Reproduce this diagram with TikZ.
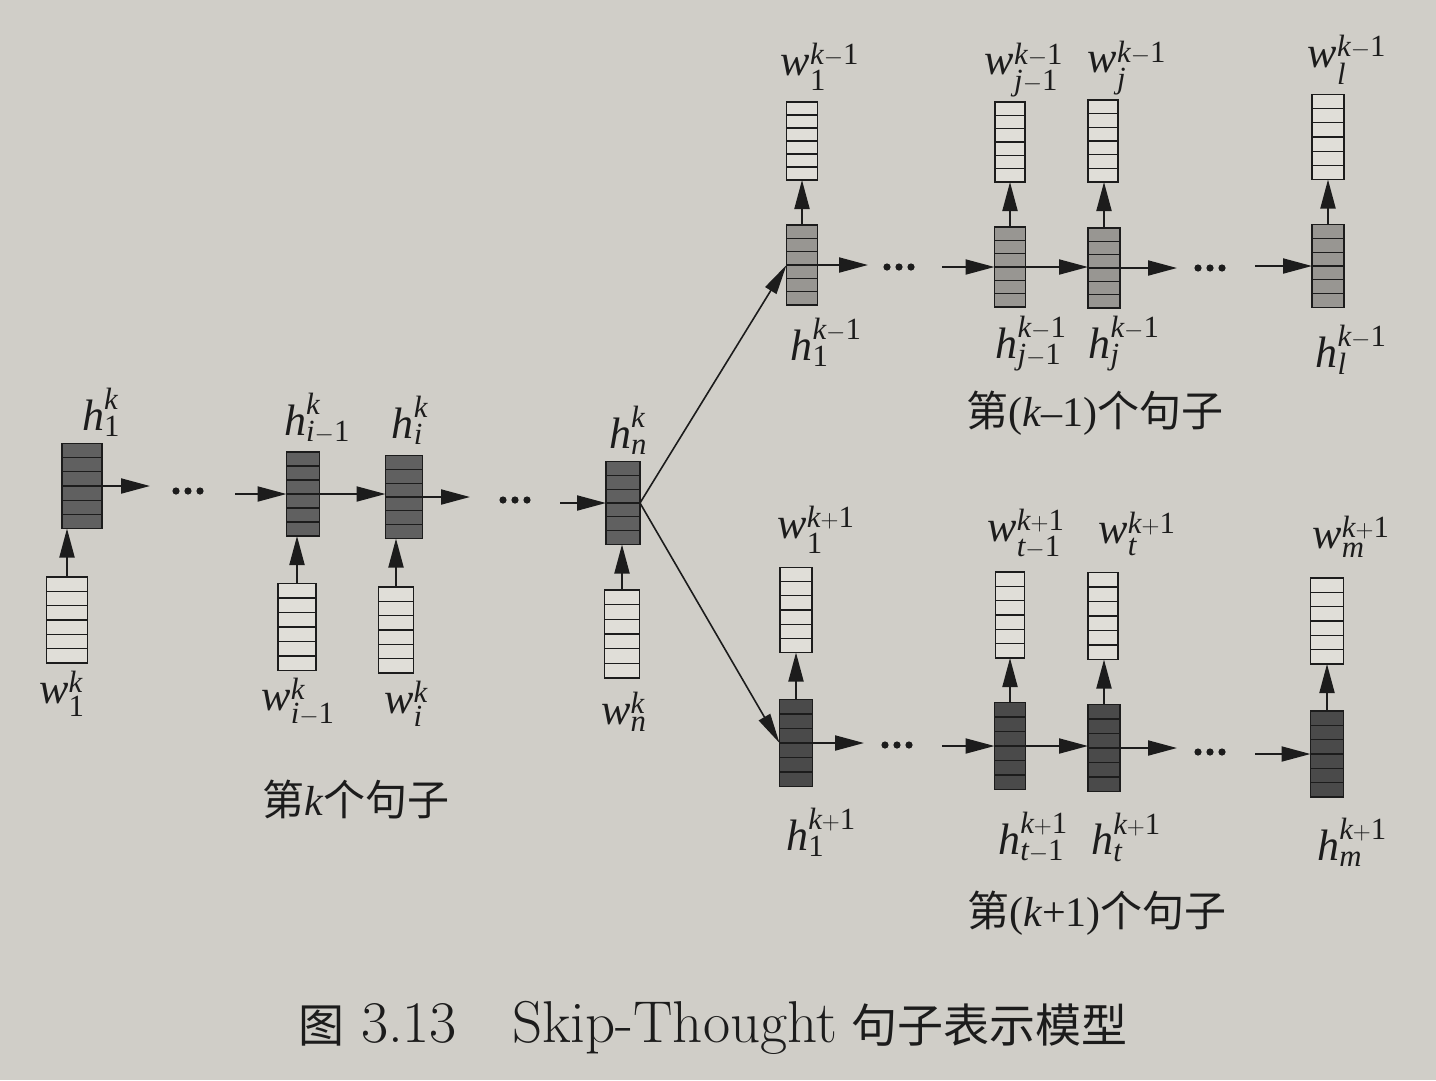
\documentclass[tikz,border=0pt]{standalone}
\usepackage{fontspec}
\usepackage{amsmath}
\newfontfamily\tms{Liberation Serif}
\newfontfamily\cjk{Noto Sans CJK SC}
\usetikzlibrary{arrows.meta,calc}
\definecolor{paper}{RGB}{208,206,200}
\definecolor{wfill}{RGB}{224,222,216}
\definecolor{hdark}{RGB}{96,96,96}
\definecolor{hmid}{RGB}{152,150,146}
\definecolor{hblack}{RGB}{74,74,74}
\definecolor{ink}{RGB}{28,28,28}
\newcommand\I[1]{\text{\tms\itshape #1}}
\newcommand\R[1]{\text{\tms\upshape #1}}
\newcommand\lbl[3]{$\I{#1}^{#2}_{#3}$}
\tikzset{
  cellbox/.style={draw=ink, line width=1.5pt, minimum width=32pt, minimum height=84pt,
    inner sep=0pt, outer sep=0pt,
    path picture={\foreach \i in {1,...,5}{\draw[ink, line width=1.2pt]
      ($(path picture bounding box.south west)!\i/6!(path picture bounding box.north west)$) --
      ($(path picture bounding box.south east)!\i/6!(path picture bounding box.north east)$);}}},
  wbox/.style={cellbox, fill=wfill},
  hbox/.style={cellbox, fill=hdark},
  hboxu/.style={cellbox, fill=hmid},
  hboxd/.style={cellbox, fill=hblack},
  flow/.style={draw=ink, line width=2pt, -{Triangle[length=29pt,width=15pt]}},
  diag/.style={draw=ink, line width=1.6pt, -{Triangle[length=30pt,width=13pt]}},
  lab/.style={font=\fontsize{44}{48}\selectfont, inner sep=0pt, text=ink},
  cn/.style={font=\fontsize{42}{46}\selectfont, inner sep=0pt, text=ink},
  threedots/.pic={\foreach \i in {-1,0,1} \fill[ink] (\i*12,0) circle (3.6pt);}
}
\begin{document}
\begin{tikzpicture}[x=1pt, y=-1pt]
\fill[paper] (0,0) rectangle (1436,1080);
\useasboundingbox (0,0) rectangle (1436,1080);

% ---------- sentence k ----------
\node[hbox, minimum width=40pt, minimum height=85pt] (h1) at (82,486) {};
\node[hbox, minimum width=33pt] (him1) at (303,494) {};
\node[hbox, minimum width=37pt, minimum height=83pt] (hi) at (404,497) {};
\node[hbox, minimum width=34pt, minimum height=83pt] (hn) at (623,503) {};
\node[wbox, minimum width=41pt, minimum height=86pt] (w1) at (67,620) {};
\node[wbox, minimum width=38pt, minimum height=87pt] (wim1) at (297,627) {};
\node[wbox, minimum width=35pt, minimum height=86pt] (wi) at (396,630) {};
\node[wbox, minimum width=35pt, minimum height=88pt] (wn) at (622,634) {};

\coordinate (a1) at (150,486);
\coordinate (b1) at (235,494);
\coordinate (a2) at (470,497);
\coordinate (b2) at (560,503);
\pic at (188,491) {threedots};
\pic at (515,500) {threedots};
\draw[flow] (h1.east) -- (a1);
\draw[flow] (b1) -- (him1.west);
\draw[flow] (him1.east) -- (him1.east -| hi.west);
\draw[flow] (hi.east) -- (a2);
\draw[flow] (b2) -- (hn.west);
\draw[flow] (w1.north) -- (w1.north |- h1.south);
\draw[flow] (wim1.north) -- (wim1.north |- him1.south);
\draw[flow] (wi.north) -- (wi.north |- hi.south);
\draw[flow] (wn.north) -- (wn.north |- hn.south);

\node[lab] (lh1) at (101,412) {\lbl{h}{\I{k}}{\R{1}}};
\node[lab] (lhim1) at (317,418) {\lbl{h}{\I{k}}{\I{i}-\R{1}}};
\node[lab] (lhi) at (410,420) {\lbl{h}{\I{k}}{\I{i}}};
\node[lab] (lhn) at (628,430) {\lbl{h}{\I{k}}{\I{n}}};
\node[lab] (lw1) at (62,694) {\lbl{w}{\I{k}}{\R{1}}};
\node[lab] (lwim1) at (298,702) {\lbl{w}{\I{k}}{\I{i}-\R{1}}};
\node[lab] (lwi) at (406,704) {\lbl{w}{\I{k}}{\I{i}}};
\node[lab] (lwn) at (624,712) {\lbl{w}{\I{k}}{\I{n}}};
\node[cn] (sk) at (356,800) {{\cjk 第}{\tms\itshape k}{\cjk 个句子}};

% ---------- sentence k-1 ----------
\node[hboxu, minimum width=31pt, minimum height=80pt] (hu1) at (802,265) {};
\node[hboxu, minimum width=31pt, minimum height=80pt] (huj1) at (1010,267) {};
\node[hboxu, minimum width=32pt, minimum height=80pt] (huj) at (1104,268) {};
\node[hboxu, minimum width=32pt, minimum height=83pt] (hul) at (1328,266) {};
\node[wbox, minimum width=31pt, minimum height=78pt] (wu1) at (802,141) {};
\node[wbox, minimum width=30pt, minimum height=80pt] (wuj1) at (1010,142) {};
\node[wbox, minimum width=30pt, minimum height=82pt] (wuj) at (1103,141) {};
\node[wbox, minimum width=32pt, minimum height=85pt] (wul) at (1328,137) {};

\coordinate (a3) at (868,265);
\coordinate (b3) at (942,267);
\coordinate (a4) at (1177,268);
\coordinate (b4) at (1255,266);
\pic at (899,267) {threedots};
\pic at (1210,268) {threedots};
\draw[flow] (hu1.east) -- (a3);
\draw[flow] (b3) -- (huj1.west);
\draw[flow] (huj1.east) -- (huj1.east -| huj.west);
\draw[flow] (huj.east) -- (a4);
\draw[flow] (b4) -- (hul.west);
\draw[flow] (hu1.north) -- (hu1.north |- wu1.south);
\draw[flow] (huj1.north) -- (huj1.north |- wuj1.south);
\draw[flow] (huj.north) -- (huj.north |- wuj.south);
\draw[flow] (hul.north) -- (hul.north |- wul.south);

\node[lab] (lwu1) at (820,67) {\lbl{w}{\I{k}-\R{1}}{\R{1}}};
\node[lab] (lwuj1) at (1024,70) {\lbl{w}{\I{k}-\R{1}}{\I{j}-\R{1}}};
\node[lab] (lwuj) at (1127,68) {\lbl{w}{\I{k}-\R{1}}{\I{j}}};
\node[lab] (lwul) at (1347,60) {\lbl{w}{\I{k}-\R{1}}{\I{l}}};
\node[lab] (lhu1) at (826,342) {\lbl{h}{\I{k}-\R{1}}{\R{1}}};
\node[lab] (lhuj1) at (1031,344) {\lbl{h}{\I{k}-\R{1}}{\I{j}-\R{1}}};
\node[lab] (lhuj) at (1124,344) {\lbl{h}{\I{k}-\R{1}}{\I{j}}};
\node[lab] (lhul) at (1351,350) {\lbl{h}{\I{k}-\R{1}}{\I{l}}};
\node[cn] (skm) at (1095,413) {{\cjk 第}{\tms (\textit{k}–1)}{\cjk 个句子}};

% ---------- sentence k+1 ----------
\node[hboxd, minimum width=33pt, minimum height=87pt] (hd1) at (796,743) {};
\node[hboxd, minimum width=31pt, minimum height=87pt] (hdt1) at (1010,746) {};
\node[hboxd, minimum width=32pt, minimum height=87pt] (hdt) at (1104,748) {};
\node[hboxd, minimum width=33pt, minimum height=86pt] (hdm) at (1327,754) {};
\node[wbox, minimum width=32pt, minimum height=85pt] (wd1) at (796,610) {};
\node[wbox, minimum width=29pt, minimum height=86pt] (wdt1) at (1010,615) {};
\node[wbox, minimum width=30pt, minimum height=87pt] (wdt) at (1103,616) {};
\node[wbox, minimum width=33pt, minimum height=86pt] (wdm) at (1327,621) {};

\coordinate (a5) at (864,743);
\coordinate (b5) at (942,746);
\coordinate (a6) at (1177,748);
\coordinate (b6) at (1255,754);
\pic at (897,745) {threedots};
\pic at (1210,752) {threedots};
\draw[flow] (hd1.east) -- (a5);
\draw[flow] (b5) -- (hdt1.west);
\draw[flow] (hdt1.east) -- (hdt1.east -| hdt.west);
\draw[flow] (hdt.east) -- (a6);
\draw[flow] (b6) -- (hdm.west);
\draw[flow] (hd1.north) -- (hd1.north |- wd1.south);
\draw[flow] (hdt1.north) -- (hdt1.north |- wdt1.south);
\draw[flow] (hdt.north) -- (hdt.north |- wdt.south);
\draw[flow] (hdm.north) -- (hdm.north |- wdm.south);

\node[lab] (lwd1) at (816,530) {\lbl{w}{\I{k}+\R{1}}{\R{1}}};
\node[lab] (lwdt1) at (1026,534) {\lbl{w}{\I{k}+\R{1}}{\I{t}-\R{1}}};
\node[lab] (lwdt) at (1137,534) {\lbl{w}{\I{k}+\R{1}}{\I{t}}};
\node[lab] (lwdm) at (1351,537) {\lbl{w}{\I{k}+\R{1}}{\I{m}}};
\node[lab] (lhd1) at (821,832) {\lbl{h}{\I{k}+\R{1}}{\R{1}}};
\node[lab] (lhdt1) at (1033,837) {\lbl{h}{\I{k}+\R{1}}{\I{t}-\R{1}}};
\node[lab] (lhdt) at (1126,837) {\lbl{h}{\I{k}+\R{1}}{\I{t}}};
\node[lab] (lhdm) at (1352,842) {\lbl{h}{\I{k}+\R{1}}{\I{m}}};
\node[cn] (skp) at (1097,913) {{\cjk 第}{\tms (\textit{k}+1)}{\cjk 个句子}};

% ---------- encoder to decoders ----------
\draw[diag] (hn.east) -- (hu1.west);
\draw[diag] (hn.east) -- (hd1.west);

% ---------- caption ----------
\node[inner sep=0pt, text=ink] (cap) at (713,1028)
  {{\cjk\fontsize{46}{50}\selectfont 图}\hspace{17pt}{\fontsize{59}{62}\selectfont 3.13\hspace{55pt}Skip-Thought}\hspace{15pt}{\cjk\fontsize{46}{50}\selectfont 句子表示模型}};
\end{tikzpicture}
\end{document}
